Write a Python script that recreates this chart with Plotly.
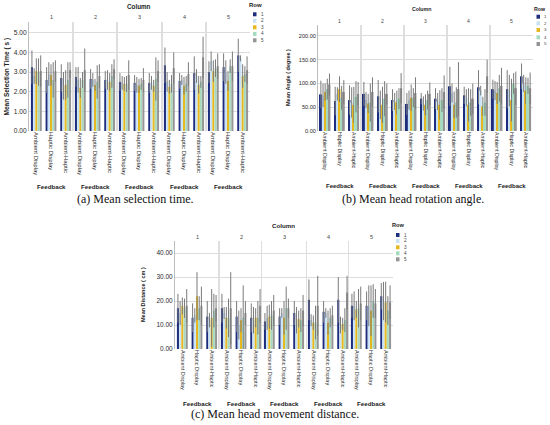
import plotly.graph_objects as go

# ---------------- data ----------------
feedback = ["Ambient Display", "Haptic Display", "Ambient-Haptic"]
columns = ["1", "2", "3", "4", "5"]
rows = ["1", "2", "3", "4", "5"]

# values indexed [column][feedback][row]
time_mean = [
    [[3.25, 2.80, 3.05, 3.00, 3.05], [2.60, 2.90, 2.85, 2.60, 3.05], [2.70, 2.30, 2.35, 2.60, 3.10]],
    [[2.75, 2.60, 2.20, 2.60, 3.10], [2.65, 2.60, 2.35, 2.50, 2.80], [2.60, 2.60, 2.50, 2.80, 3.15]],
    [[2.50, 2.45, 2.40, 2.40, 2.85], [2.45, 2.35, 2.30, 2.40, 2.60], [2.45, 2.45, 2.30, 2.65, 3.05]],
    [[3.35, 2.50, 2.25, 2.40, 3.20], [2.55, 2.60, 2.30, 2.40, 2.90], [2.95, 2.80, 2.35, 2.50, 3.75]],
    [[3.00, 3.55, 3.05, 3.20, 3.30], [3.25, 3.00, 2.55, 3.30, 3.30], [3.85, 3.70, 2.80, 2.90, 3.10]],
]
time_err = [
    [[0.85, 0.40, 0.65, 0.70, 0.80], [0.65, 0.60, 0.55, 0.90, 0.55], [0.70, 0.70, 0.75, 0.90, 0.40]],
    [[0.50, 0.65, 0.50, 0.40, 1.10], [0.50, 0.35, 0.30, 0.85, 0.60], [0.45, 0.50, 0.45, 0.60, 0.50]],
    [[0.45, 0.35, 0.35, 0.40, 0.75], [0.40, 0.40, 0.35, 0.30, 0.60], [0.50, 0.35, 0.30, 1.10, 0.55]],
    [[0.90, 0.50, 0.35, 0.45, 0.80], [0.40, 0.25, 0.45, 0.40, 0.60], [0.85, 0.35, 0.45, 0.30, 1.05]],
    [[0.55, 0.50, 0.55, 0.45, 0.65], [0.70, 0.60, 0.50, 0.35, 0.75], [0.85, 0.15, 0.60, 0.40, 0.70]],
]
angle_mean = [
    [[77, 75, 82, 88, 98], [63, 78, 88, 70, 82], [65, 60, 55, 72, 78]],
    [[78, 65, 58, 60, 82], [73, 55, 55, 68, 78], [65, 62, 60, 68, 90]],
    [[57, 65, 70, 70, 80], [68, 58, 55, 65, 78], [68, 62, 55, 65, 82]],
    [[94, 80, 55, 60, 88], [75, 70, 55, 60, 68], [92, 85, 52, 60, 115]],
    [[88, 85, 80, 90, 95], [88, 85, 65, 100, 90], [115, 100, 85, 95, 90]],
]
angle_err = [
    [[29, 25, 18, 22, 23], [30, 14, 27, 25, 25], [31, 32, 38, 33, 25]],
    [[25, 17, 20, 40, 31], [34, 30, 38, 37, 22], [23, 18, 25, 22, 32]],
    [[23, 20, 28, 20, 33], [12, 15, 22, 20, 24], [22, 18, 31, 25, 35]],
    [[41, 20, 28, 32, 57], [18, 18, 35, 28, 32], [36, 10, 20, 28, 35]],
    [[20, 20, 23, 28, 38], [40, 33, 45, 22, 35], [27, 18, 28, 17, 33]],
]
dist_mean = [
    [[17.0, 15.0, 18.0, 17.0, 18.0], [13.0, 14.0, 22.0, 17.0, 18.0], [13.5, 12.0, 13.0, 16.0, 17.0]],
    [[17.0, 15.0, 13.0, 13.0, 17.0], [13.5, 10.0, 12.0, 13.0, 15.0], [13.0, 12.0, 13.0, 13.0, 18.0]],
    [[11.5, 13.0, 13.5, 14.0, 16.0], [13.5, 15.0, 13.0, 17.0, 17.0], [15.0, 12.0, 12.5, 12.0, 16.0]],
    [[20.5, 12.0, 11.0, 11.0, 18.0], [15.5, 15.0, 11.0, 13.0, 14.0], [20.5, 10.0, 10.5, 12.0, 23.5]],
    [[18.0, 18.0, 16.5, 17.0, 19.0], [18.0, 18.0, 16.0, 20.0, 19.0], [22.0, 20.0, 19.5, 16.0, 19.5]],
]
dist_err = [
    [[6.0, 5.0, 3.5, 4.0, 7.0], [6.0, 3.0, 10.0, 5.0, 8.0], [6.5, 3.0, 12.0, 7.0, 5.5]],
    [[6.0, 2.5, 4.5, 8.0, 15.0], [6.5, 6.0, 5.0, 13.5, 5.0], [6.0, 5.5, 4.0, 7.0, 7.0]],
    [[3.5, 5.0, 5.0, 6.0, 6.5], [3.5, 2.0, 7.0, 9.0, 4.0], [5.0, 5.5, 3.5, 5.0, 6.5]],
    [[8.5, 2.5, 3.0, 7.0, 12.5], [4.5, 2.0, 5.0, 4.0, 4.0], [9.5, 3.5, 2.5, 5.0, 7.0]],
    [[5.0, 6.0, 3.5, 8.0, 7.0], [6.0, 8.5, 10.5, 7.0, 6.0], [5.5, 8.0, 8.5, 6.0, 7.0]],
]
y_titles = ["Mean Selection Time ( s )", "Mean Angle ( degree )", "Mean Distance ( cm )"]
captions = ["(a) Mean selection time.", "(b) Mean head rotation angle.",
            "(c) Mean head movement distance."]

# ---------------- styles / layout ----------------
W, H = 550, 425
row_colors = ["#1c2d7d", "#c6e2f4", "#e6b720", "#a5dabe", "#959595"]
err_color = "#7a7a7a"
grid_color = "#dcdcdc"
line_color = "#bdbdbd"
FONT = "Liberation Sans"

panels = [
    dict(mean=time_mean, err=time_err, lefts=[29, 73, 117, 162, 206], fw=44, top=22, bottom=131,
         ymax=5.55, dtick=1, col_xy=(139, 6), num_y=17, fb_y=186, ytitle_x=7, cap=(135, 199),
         leg=dict(title=(255, 5.5), sx=253, sw=3.5, ys=[14.3, 20.7, 27.3, 34, 40.3], tx=259),
         f=dict(yt=6.6, xt=6.0, col=6.3, num=5.5, fb=6.2, ytl=6.5, legt=6.0, legn=4.6)),
    dict(mean=angle_mean, err=angle_err, lefts=[318, 361, 404, 447, 490], fw=43, top=25, bottom=131,
         ymax=223, dtick=50, col_xy=(422, 9), num_y=21, fb_y=186, ytitle_x=288, cap=(413, 199),
         leg=dict(title=(540, 9), sx=536.5, sw=3.5, ys=[16.7, 23.3, 30, 37.3, 44], tx=542),
         f=dict(yt=5.6, xt=5.3, col=5.2, num=5.0, fb=6.0, ytl=5.5, legt=5.2, legn=4.4)),
    dict(mean=dist_mean, err=dist_err, lefts=[175, 219, 262, 306, 349], fw=44, top=241, bottom=349,
         ymax=45, dtick=10, col_xy=(283, 225), num_y=237, fb_y=403, ytitle_x=143, cap=(275, 414),
         leg=dict(title=(398, 225), sx=396, sw=3.5, ys=[235, 241, 247.3, 253.3, 259.3], tx=401.5),
         f=dict(yt=6.5, xt=5.5, col=6.2, num=5.5, fb=6.2, ytl=5.5, legt=5.6, legn=4.6)),
]


def px(x):
    return x / W


def py(y):
    return 1 - y / H


def note(text, x, y, size, color="#222", xref="paper", xanchor="center", family=FONT, angle=0):
    return dict(text=text, xref=xref, yref="paper", x=x, y=y, xanchor=xanchor, yanchor="middle",
                showarrow=False, textangle=angle, font=dict(family=family, size=size, color=color))


fig = go.Figure()
shapes, annotations = [], []
layout = {}

for p, P in enumerate(panels):
    yname = "y" if p == 0 else f"y{p + 1}"
    ykey = "yaxis" if p == 0 else f"yaxis{p + 1}"
    first_x = None
    for f in range(5):
        xi = p * 5 + f + 1
        xname = "x" if xi == 1 else f"x{xi}"
        xkey = "xaxis" if xi == 1 else f"xaxis{xi}"
        if f == 0:
            first_x = xname
        left = P["lefts"][f]
        layout[xkey] = dict(
            domain=[px(left), px(left + P["fw"])], anchor=yname, type="category",
            categoryorder="array", categoryarray=feedback, automargin=False,
            tickangle=90, tickfont=dict(family=FONT, size=P["f"]["xt"], color="#2a2a2a"),
            showgrid=False, showline=False, zeroline=False, ticks="", fixedrange=True,
        )
        for r in range(5):
            fig.add_trace(go.Bar(
                x=feedback,
                y=[P["mean"][f][g][r] for g in range(3)],
                error_y=dict(type="data", array=[P["err"][f][g][r] for g in range(3)],
                             color=err_color, thickness=1, width=0),
                marker=dict(color=row_colors[r], line=dict(width=0)),
                name=rows[r], xaxis=xname, yaxis=yname, showlegend=False, hoverinfo="skip",
            ))
        if f > 0:
            shapes.append(dict(type="line", xref=f"{xname} domain", yref=f"{yname} domain",
                               x0=0, x1=0, y0=0, y1=1, line=dict(color=line_color, width=1),
                               layer="below"))
        annotations.append(note(columns[f], 0.5, py(P["num_y"]), P["f"]["num"], "#444",
                                xref=f"{xname} domain"))
        annotations.append(note("<b>Feedback</b>", 0.5, py(P["fb_y"]), P["f"]["fb"],
                                xref=f"{xname} domain"))
    layout[ykey] = dict(
        domain=[py(P["bottom"]), py(P["top"])], anchor=first_x, range=[0, P["ymax"]],
        dtick=P["dtick"], tick0=0, tickformat=".2f", showgrid=True, gridcolor=grid_color,
        gridwidth=1, zeroline=False, showline=True, linecolor=line_color, linewidth=1,
        automargin=False, ticks="", tickfont=dict(family=FONT, size=P["f"]["yt"], color="#2a2a2a"),
        fixedrange=True,
    )
    annotations.append(note("<b>Column</b>", px(P["col_xy"][0]), py(P["col_xy"][1]), P["f"]["col"]))
    annotations.append(note(f"<b>{y_titles[p]}</b>", px(P["ytitle_x"]),
                            (py(P["bottom"]) + py(P["top"])) / 2, P["f"]["ytl"], angle=-90))
    annotations.append(note(captions[p], px(P["cap"][0]), py(P["cap"][1]), 12, "#111",
                            family="Liberation Serif"))
    # manual legend
    L = P["leg"]
    annotations.append(note("<b>Row</b>", px(L["title"][0]), py(L["title"][1]), P["f"]["legt"]))
    for r in range(5):
        yc = L["ys"][r]
        shapes.append(dict(type="rect", xref="paper", yref="paper",
                           x0=px(L["sx"]), x1=px(L["sx"] + L["sw"]),
                           y0=py(yc + 2), y1=py(yc - 2),
                           fillcolor=row_colors[r], line=dict(width=0)))
        annotations.append(note(rows[r], px(L["tx"]), py(yc), P["f"]["legn"], "#444",
                                xanchor="left"))

fig.update_layout(
    width=W, height=H, margin=dict(l=0, r=0, t=0, b=0),
    paper_bgcolor="white", plot_bgcolor="white",
    barmode="group", bargap=0.25, bargroupgap=0.08,
    shapes=shapes, annotations=annotations, showlegend=False,
    **layout,
)

fig.write_html("out.html", config={"displayModeBar": False},
               post_script="document.body.style.margin='0px';document.body.style.overflow='hidden';")
